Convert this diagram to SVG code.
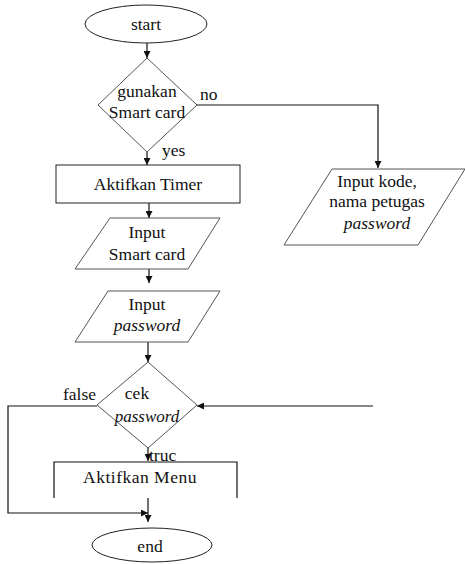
<svg xmlns="http://www.w3.org/2000/svg" width="465" height="564" viewBox="0 0 465 564">
  <style>
    .shape { fill: #ffffff; stroke: #222222; stroke-width: 1; }
    .soft { fill: #ffffff; stroke: #555555; stroke-width: 1; }
    .wire { fill: none; stroke: #111111; stroke-width: 1.2; }
  </style>
  <defs>
    <marker id="arrow" viewBox="0 0 10 10" refX="10" refY="5" markerWidth="7" markerHeight="7" orient="auto" markerUnits="userSpaceOnUse">
      <path d="M0,0 L10,5 L0,10 Z" fill="#111111"/>
    </marker>
  </defs>

  <g id="connectors">
    <line class="wire" x1="147" y1="43" x2="147" y2="58" marker-end="url(#arrow)"/>
    <path class="wire" d="M197,105 H378 V168" marker-end="url(#arrow)"/>
    <line class="wire" x1="147" y1="152" x2="147" y2="165" marker-end="url(#arrow)"/>
    <line class="wire" x1="149" y1="203" x2="149" y2="218" marker-end="url(#arrow)"/>
    <line class="wire" x1="149" y1="269" x2="149" y2="283" marker-end="url(#arrow)"/>
    <line class="wire" x1="148" y1="342" x2="148" y2="362" marker-end="url(#arrow)"/>
    <path class="wire" d="M97,406 H8 V513 H148" marker-end="url(#arrow)"/>
    <path class="wire" d="M373,406 H197" marker-end="url(#arrow)"/>
    <line class="wire" x1="148" y1="448" x2="148" y2="461" marker-end="url(#arrow)"/>
    <line class="wire" x1="148" y1="498" x2="148" y2="522" marker-end="url(#arrow)"/>
  </g>

  <g id="start">
    <ellipse class="shape" cx="146" cy="24" rx="61" ry="19"/>
    <text font-family="Liberation Serif" font-size="17.5" fill="#111" text-anchor="middle" x="146" y="30">start</text>
  </g>

  <g id="gunakan-smart-card">
    <polygon class="soft" points="147,58 197,105 147,152 98,105"/>
    <text font-family="Liberation Serif" font-size="17.5" fill="#111" text-anchor="middle" x="147" y="97">gunakan</text>
    <text font-family="Liberation Serif" font-size="17.5" fill="#111" text-anchor="middle" x="147" y="118">Smart card</text>
    <text font-family="Liberation Serif" font-size="17.5" fill="#111" x="200" y="100">no</text>
    <text font-family="Liberation Serif" font-size="17.5" fill="#111" x="162" y="156">yes</text>
  </g>

  <g id="aktifkan-timer">
    <rect class="shape" x="56" y="165" width="184" height="38"/>
    <text font-family="Liberation Serif" font-size="17.5" fill="#111" text-anchor="middle" x="148" y="190">Aktifkan Timer</text>
  </g>

  <g id="input-smart-card">
    <polygon class="soft" points="110,218 220,218 188,269 75,269"/>
    <text font-family="Liberation Serif" font-size="17.5" fill="#111" text-anchor="middle" x="147" y="238">Input</text>
    <text font-family="Liberation Serif" font-size="17.5" fill="#111" text-anchor="middle" x="147" y="260">Smart card</text>
  </g>

  <g id="input-password">
    <polygon class="soft" points="108,291 220,291 188,342 75,342"/>
    <text font-family="Liberation Serif" font-size="17.5" fill="#111" text-anchor="middle" x="147" y="310">Input</text>
    <text font-family="Liberation Serif" font-size="17.5" fill="#111" font-style="italic" text-anchor="middle" x="147" y="331">password</text>
  </g>

  <g id="input-kode">
    <polygon class="soft" points="332,169 465,169 418,245 284,245"/>
    <text font-family="Liberation Serif" font-size="17.5" fill="#111" text-anchor="middle" x="377" y="187">Input kode,</text>
    <text font-family="Liberation Serif" font-size="17.5" fill="#111" text-anchor="middle" x="377" y="207">nama petugas</text>
    <text font-family="Liberation Serif" font-size="17.5" fill="#111" font-style="italic" text-anchor="middle" x="377" y="229">password</text>
  </g>

  <g id="cek-password">
    <polygon class="soft" points="148,362 197,405 148,448 97,405"/>
    <text font-family="Liberation Serif" font-size="17.5" fill="#111" text-anchor="middle" x="137" y="399">cek</text>
    <text font-family="Liberation Serif" font-size="17" fill="#111" font-style="italic" text-anchor="middle" x="147" y="422">password</text>
    <text font-family="Liberation Serif" font-size="17.5" fill="#111" x="63" y="400">false</text>
    <text font-family="Liberation Serif" font-size="17.5" fill="#111" x="149" y="461">truc</text>
  </g>

  <g id="aktifkan-menu">
    <path class="wire" d="M54,498 V462 H237 V498"/>
    <text font-family="Liberation Serif" font-size="17.5" fill="#111" text-anchor="middle" x="140" y="483" letter-spacing="0.5">Aktifkan Menu</text>
  </g>

  <g id="end">
    <ellipse class="shape" cx="152" cy="545" rx="60" ry="17"/>
    <text font-family="Liberation Serif" font-size="17.5" fill="#111" text-anchor="middle" x="150" y="552">end</text>
  </g>
</svg>
